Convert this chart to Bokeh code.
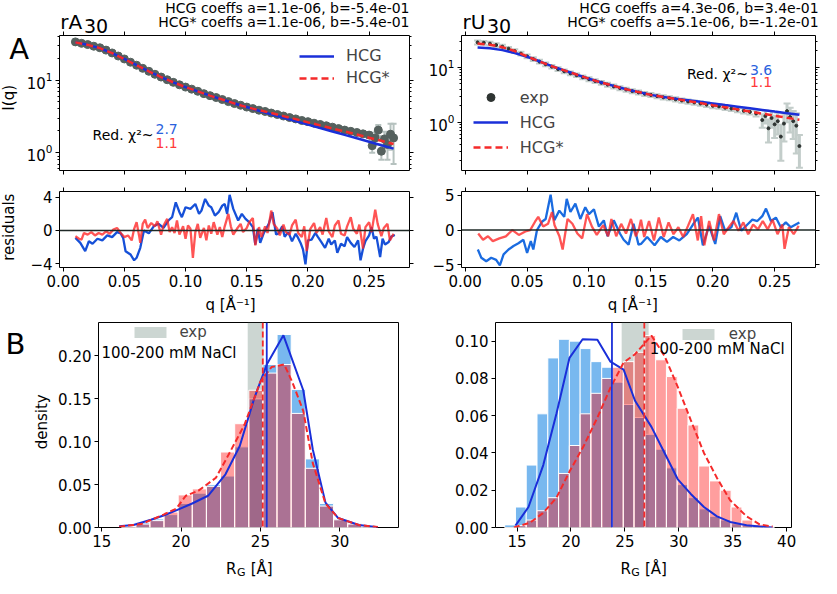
import math
import numpy as np
from bokeh.plotting import figure
from bokeh.layouts import column, row
from bokeh.models import (Range1d, FixedTicker, LinearAxis, LogAxis, Label, Span, GridBox,
                          Legend, LegendItem, CustomJSTickFormatter, NumeralTickFormatter)
from bokeh.embed import file_html
from bokeh.resources import INLINE

FONT = "DejaVu Sans"

# ---------------------------------------------------------------- data
q_ticks = [0.0, 0.05, 0.10, 0.15, 0.20, 0.25]
rA_res_ticks = [-4, 0, 4]
rU_res_ticks = [-5, 0, 5]
rA_hist_xticks = [15, 20, 25, 30]
rA_hist_yticks = [0.0, 0.05, 0.10, 0.15, 0.20]
rU_hist_xticks = [15, 20, 25, 30, 35, 40]
rU_hist_yticks = [0.0, 0.02, 0.04, 0.06, 0.08, 0.10]

rA_coeffs = ["HCG coeffs a=1.1e-06, b=-5.4e-01", "HCG* coeffs a=1.1e-06, b=-5.4e-01"]
rU_coeffs = ["HCG coeffs a=4.3e-06, b=3.4e-01", "HCG* coeffs a=5.1e-06, b=-1.2e-01"]
rA_chi = ["2.7", "1.1"]
rU_chi = ["3.6", "1.1"]

fit_q = [0.01, 0.02, 0.03, 0.04, 0.05, 0.06, 0.07, 0.08, 0.09, 0.10, 0.11, 0.12, 0.13, 0.14,
         0.15, 0.16, 0.17, 0.18, 0.19, 0.20, 0.21, 0.22, 0.23, 0.24, 0.25, 0.26, 0.27]
rA_hcg_I = [33.0, 30.5, 27.5, 23.5, 19.5, 16.0, 13.2, 11.0, 9.3, 8.0, 7.0, 6.1, 5.4, 4.75,
            4.25, 3.78, 3.37, 3.03, 2.72, 2.44, 2.19, 1.96, 1.76, 1.58, 1.42, 1.27, 1.14]
rA_hcgs_I = [33.0, 30.5, 27.5, 23.5, 19.5, 16.0, 13.2, 11.0, 9.3, 8.0, 7.0, 6.1, 5.4, 4.75,
             4.25, 3.85, 3.52, 3.19, 2.90, 2.62, 2.38, 2.16, 1.96, 1.78, 1.61, 1.46, 1.32]
rU_hcg_I = [23.0, 22.2, 20.6, 18.3, 15.6, 12.9, 10.5, 8.8, 7.4, 6.2, 5.3, 4.6, 4.0, 3.55,
            3.16, 2.90, 2.70, 2.53, 2.36, 2.21, 2.06, 1.93, 1.80, 1.68, 1.57, 1.47, 1.37]
rU_hcgs_I = [27.3, 25.8, 23.3, 19.8, 15.8, 12.8, 10.5, 8.8, 7.4, 6.2, 5.3, 4.6, 4.0, 3.55,
             3.16, 2.90, 2.67, 2.44, 2.24, 2.05, 1.88, 1.72, 1.57, 1.44, 1.32, 1.21, 1.11]

rA_exp_q = [0.010, 0.015, 0.020, 0.025, 0.030, 0.035, 0.040, 0.045, 0.050, 0.055, 0.060, 0.065,
            0.070, 0.075, 0.080, 0.085, 0.090, 0.095, 0.100, 0.105, 0.110, 0.115, 0.120, 0.125,
            0.130, 0.135, 0.140, 0.145, 0.150, 0.155, 0.160, 0.165, 0.170, 0.175, 0.180, 0.185,
            0.190, 0.195, 0.200, 0.205, 0.210, 0.215, 0.220, 0.225, 0.230, 0.235, 0.240, 0.245,
            0.250, 0.2525, 0.255, 0.2575, 0.260, 0.2625, 0.265, 0.2675, 0.270]
rA_exp_I = [33.5, 32.0, 30.8, 29.2, 27.8, 25.8, 23.6, 21.4, 19.5, 17.6, 16.0, 14.5, 13.2, 12.0,
            11.0, 10.1, 9.3, 8.6, 8.0, 7.5, 7.0, 6.5, 6.1, 5.75, 5.4, 5.05, 4.75, 4.5, 4.25,
            4.05, 3.85, 3.7, 3.52, 3.36, 3.2, 3.05, 2.92, 2.78, 2.68, 2.55, 2.45, 2.35, 2.25,
            2.15, 2.05, 1.97, 1.9, 1.82, 1.75, 1.25, 1.6, 2.05, 1.05, 1.55, 1.3, 1.8, 1.6]
rA_exp_err = [0.8, 0.8, 0.7, 0.7, 0.6, 0.6, 0.5, 0.5, 0.45, 0.4, 0.35, 0.32, 0.3, 0.28, 0.25,
              0.23, 0.21, 0.2, 0.18, 0.17, 0.16, 0.15, 0.14, 0.13, 0.12, 0.12, 0.11, 0.11, 0.1,
              0.1, 0.1, 0.09, 0.09, 0.09, 0.08, 0.08, 0.08, 0.08, 0.08, 0.08, 0.08, 0.08, 0.08,
              0.08, 0.08, 0.09, 0.1, 0.12, 0.15, 0.25, 0.3, 0.35, 0.25, 0.4, 0.5, 0.7, 0.9]

rU_exp_q = [0.010, 0.015, 0.020, 0.025, 0.030, 0.035, 0.040, 0.045, 0.050, 0.055, 0.060, 0.065,
            0.070, 0.075, 0.080, 0.085, 0.090, 0.095, 0.100, 0.105, 0.110, 0.115, 0.120, 0.125,
            0.130, 0.135, 0.140, 0.145, 0.150, 0.155, 0.160, 0.165, 0.170, 0.175, 0.180, 0.185,
            0.190, 0.195, 0.200, 0.205, 0.210, 0.215, 0.220, 0.225, 0.230, 0.235, 0.240, 0.2425,
            0.245, 0.2475, 0.250, 0.2525, 0.255, 0.2575, 0.260, 0.2625, 0.265, 0.2675, 0.270]
rU_exp_I = [28.5, 28.0, 27.0, 25.5, 23.8, 21.8, 19.8, 17.8, 15.9, 14.2, 12.7, 11.4, 10.3, 9.3,
            8.5, 7.8, 7.2, 6.6, 6.1, 5.65, 5.25, 4.85, 4.5, 4.2, 3.95, 3.7, 3.5, 3.3, 3.15, 3.0,
            2.85, 2.75, 2.62, 2.5, 2.4, 2.3, 2.2, 2.1, 2.0, 1.95, 1.85, 1.78, 1.7, 1.62, 1.55,
            1.45, 1.1, 1.3, 0.78, 1.2, 0.92, 1.05, 0.55, 0.95, 1.6, 1.25, 1.05, 0.87, 0.37]
rU_exp_err = [2.3, 2.2, 2.1, 2.0, 1.9, 1.7, 1.6, 1.4, 1.2, 1.1, 1.0, 0.9, 0.8, 0.7, 0.65, 0.6,
              0.55, 0.5, 0.48, 0.45, 0.42, 0.4, 0.37, 0.35, 0.33, 0.31, 0.3, 0.28, 0.27, 0.26,
              0.25, 0.24, 0.23, 0.22, 0.21, 0.2, 0.2, 0.19, 0.19, 0.18, 0.18, 0.17, 0.17, 0.17,
              0.16, 0.17, 0.3, 0.35, 0.35, 0.4, 0.4, 0.45, 0.35, 0.5, 0.6, 0.6, 0.55, 0.6, 0.22]

rA_res_q_hcg = [0.010, 0.014, 0.018, 0.021, 0.024, 0.028, 0.032, 0.036, 0.040, 0.044, 0.047,
                0.049, 0.051, 0.055, 0.058, 0.060, 0.063, 0.066, 0.070, 0.074, 0.078, 0.082,
                0.086, 0.089, 0.092, 0.095, 0.097, 0.100, 0.104, 0.108, 0.111, 0.113, 0.116,
                0.119, 0.121, 0.124, 0.127, 0.130, 0.132, 0.134, 0.136, 0.139, 0.143, 0.146,
                0.149, 0.152, 0.155, 0.157, 0.159, 0.161, 0.164, 0.168, 0.171, 0.174, 0.176,
                0.179, 0.181, 0.184, 0.187, 0.190, 0.192, 0.194, 0.196, 0.198, 0.200, 0.203,
                0.206, 0.208, 0.211, 0.214, 0.217, 0.219, 0.222, 0.224, 0.227, 0.230, 0.232,
                0.235, 0.238, 0.241, 0.243, 0.245, 0.247, 0.250, 0.252, 0.254, 0.256, 0.259,
                0.261, 0.263, 0.266, 0.268, 0.271]
rA_res_hcg = [-0.9, -1.5, -2.5, -1.3, -1.6, -1.0, -1.2, -0.6, -0.8, -0.2, -0.35, -0.9, -2.5,
              -2.9, -3.6, -3.3, -2.1, 0.0, -0.35, 0.5, 0.8, 0.3, 1.2, 1.6, 3.4, 2.2, 1.6, 2.8,
              2.6, 3.2, 2.0, 2.4, 3.8, 3.0, 2.8, 1.8, 2.2, 3.0, 3.2, 2.0, 4.3, 2.6, 1.2, 2.0,
              1.4, 1.0, 0.4, -1.7, 0.2, -1.5, -0.3, 0.8, 2.2, -0.5, -0.35, 0.5, -0.75, -0.2,
              -1.3, -0.4, -0.9, -1.5, -2.3, -4.1, -1.2, -1.1, -0.3, -0.75, -1.4, -2.1, -1.0,
              -1.7, -1.2, -2.7, -1.6, -1.9, -0.8, -1.5, -2.0, -1.2, -3.6, -2.2, -1.3, -0.6,
              0.4, -1.0, -0.75, -3.2, -1.0, -1.7, -1.4, -0.75, -0.55]
rA_res_q_hcgs = [0.010, 0.013, 0.015, 0.017, 0.020, 0.023, 0.026, 0.029, 0.032, 0.035, 0.038,
                 0.041, 0.044, 0.047, 0.050, 0.053, 0.056, 0.058, 0.060, 0.062, 0.063, 0.065,
                 0.067, 0.069, 0.072, 0.075, 0.077, 0.080, 0.082, 0.085, 0.087, 0.089, 0.091,
                 0.093, 0.095, 0.098, 0.100, 0.102, 0.104, 0.106, 0.108, 0.110, 0.112, 0.115,
                 0.117, 0.119, 0.121, 0.123, 0.126, 0.128, 0.130, 0.132, 0.135, 0.137, 0.139,
                 0.142, 0.145, 0.147, 0.150, 0.152, 0.155, 0.157, 0.160, 0.162, 0.165, 0.167,
                 0.170, 0.172, 0.175, 0.177, 0.180, 0.182, 0.185, 0.187, 0.190, 0.192, 0.195,
                 0.197, 0.199, 0.202, 0.205, 0.207, 0.210, 0.212, 0.215, 0.217, 0.220, 0.222,
                 0.225, 0.227, 0.230, 0.232, 0.235, 0.237, 0.240, 0.242, 0.245, 0.247, 0.250,
                 0.252, 0.255, 0.257, 0.260, 0.262, 0.265, 0.267, 0.270]
rA_res_hcgs = [-0.7, -1.0, -1.1, -0.3, -0.5, -0.2, -0.6, -0.3, -0.5, -0.1, -0.4, 0.1, 0.3, -0.3,
               -0.8, -0.6, -1.2, 0.2, 1.0, -0.6, -1.5, 0.8, 1.3, 0.3, 0.9, 0.5, 1.1, -0.5, 0.6,
               1.4, -0.2, 0.4, -0.3, 1.2, -0.5, 0.5, -1.0, 0.6, 0.2, -3.3, -0.2, 0.8, -0.9, 0.3,
               -1.2, 0.6, -0.4, 1.0, -0.5, 0.4, -0.8, 0.5, 2.0, 0.5, -0.5, 0.2, 0.8, -0.2, 0.3,
               1.0, 1.5, -1.8, 0.4, -0.8, 0.5, -0.3, 2.4, 0.8, 0.2, -0.6, 0.7, -0.2, -0.5, 0.6,
               1.3, -0.3, -0.8, 0.5, -2.5, 0.2, 0.9, -0.3, 0.4, -0.5, 1.5, -0.1, -0.8, 0.6, 1.2,
               -0.4, -0.6, 0.5, 1.6, 0.2, -0.4, 0.7, -2.2, 0.4, 1.0, -0.2, 2.5, 0.8, -0.7, 0.3,
               0.8, -1.2, -0.4]

rU_res_q_hcg = [0.0102, 0.013, 0.017, 0.021, 0.025, 0.028, 0.031, 0.035, 0.039, 0.043, 0.047,
                0.050, 0.053, 0.055, 0.058, 0.062, 0.065, 0.069, 0.072, 0.076, 0.080, 0.082,
                0.085, 0.089, 0.093, 0.097, 0.100, 0.104, 0.108, 0.112, 0.115, 0.120, 0.125,
                0.128, 0.132, 0.136, 0.140, 0.142, 0.147, 0.153, 0.158, 0.163, 0.168, 0.173,
                0.179, 0.184, 0.188, 0.192, 0.197, 0.202, 0.206, 0.210, 0.215, 0.219, 0.223,
                0.228, 0.232, 0.236, 0.240, 0.243, 0.247, 0.251, 0.255, 0.259, 0.263, 0.267,
                0.270]
rU_res_hcg = [-2.8, -4.0, -4.5, -4.0, -4.3, -5.1, -3.5, -2.8, -2.3, -1.9, -1.4, -3.3, -1.6,
              -2.8, 0.0, 1.2, 1.6, 5.1, 1.4, 2.8, 1.9, 4.5, 2.6, 3.8, 1.6, 3.3, 2.3, 3.0, 0.5,
              1.4, -0.9, 1.4, -0.5, -1.4, -2.1, 0.9, -2.1, -2.0, -1.0, -2.2, -1.0, -1.7, -1.0,
              -1.5, -0.6, 0.8, 1.8, -2.2, 0.6, -2.0, 2.0, -0.1, 0.4, 2.5, -0.1, 0.8, 1.5, 1.3,
              2.0, 3.1, 1.3, 1.8, 0.4, 1.1, 0.4, 0.8, 1.1]
rU_res_q_hcgs = [0.0105, 0.0144, 0.0184, 0.0223, 0.0276, 0.0328, 0.0381, 0.0433, 0.0486,
                 0.0525, 0.0564, 0.0590, 0.0630, 0.0669, 0.0701, 0.0722, 0.0761, 0.0787, 0.0827,
                 0.0866, 0.0906, 0.0945, 0.0984, 0.1024, 0.1063, 0.1115, 0.1155, 0.1181, 0.1220,
                 0.1260, 0.1299, 0.1339, 0.1378, 0.1404, 0.1420, 0.1446, 0.1485, 0.1525, 0.1564,
                 0.1604, 0.1643, 0.1683, 0.1722, 0.1761, 0.1800, 0.1840, 0.1879, 0.1906, 0.1932,
                 0.1971, 0.2010, 0.2050, 0.2089, 0.2129, 0.2168, 0.2208, 0.2247, 0.2286, 0.2326,
                 0.2365, 0.2404, 0.2444, 0.2483, 0.2523, 0.2562, 0.2580, 0.2615, 0.2654, 0.2694]
rU_res_hcgs = [-0.5, -1.4, -0.9, -1.6, -1.2, -0.9, 0.0, -0.7, -0.2, 0.0, 1.2, 1.9, 0.5, 0.9,
               2.6, 0.7, -0.9, -2.8, 1.6, 0.9, -0.5, -1.2, 2.3, 0.5, -0.7, 0.7, -0.9, 1.6, -0.9,
               0.9, -0.5, 1.6, -0.9, 0.2, 1.5, -1.0, 1.3, -1.5, 1.8, -1.0, 1.1, -0.6, 0.4, -1.0,
               0.6, 2.3, -1.5, 2.0, -2.2, 1.3, -1.5, 2.3, -0.6, 0.4, 1.3, -0.1, 1.1, -0.6, 0.8,
               0.1, 1.3, 0.1, 1.5, -0.6, 0.8, -2.7, 0.4, -0.6, 0.6]

rA_bin_edges = [16.26, 17.15, 18.04, 18.93, 19.82, 20.71, 21.60, 22.49, 23.38, 24.27, 25.16,
                26.05, 26.94, 27.83, 28.72, 29.61, 30.50, 31.39, 32.28]
rA_hist_hcg = [0.001, 0.006, 0.010, 0.015, 0.028, 0.040, 0.050, 0.060, 0.094, 0.150, 0.190,
               0.225, 0.161, 0.080, 0.028, 0.010, 0.005, 0.002]
rA_hist_hcgs = [0.001, 0.004, 0.008, 0.018, 0.038, 0.045, 0.048, 0.088, 0.121, 0.160, 0.180,
                0.190, 0.133, 0.069, 0.025, 0.009, 0.004, 0.001]
rA_line_hcg_x = [16.1, 17.0, 18.1, 18.9, 19.7, 20.7, 21.7, 22.8, 23.7, 24.6, 25.4, 26.45, 27.7,
                 28.3, 29.1, 29.9, 31.2, 32.4]
rA_line_hcg_y = [0.0015, 0.003, 0.009, 0.014, 0.020, 0.028, 0.037, 0.062, 0.095, 0.150, 0.190,
                 0.224, 0.160, 0.091, 0.029, 0.011, 0.003, 0.0004]
rA_line_hcgs_x = [16.1, 17.5, 18.9, 19.7, 20.3, 21.1, 22.2, 23.0, 24.0, 25.0, 25.7, 26.5, 27.0,
                  27.7, 28.3, 29.1, 29.9, 31.2, 32.4]
rA_line_hcgs_y = [0.001, 0.004, 0.015, 0.022, 0.037, 0.043, 0.058, 0.085, 0.120, 0.170, 0.187,
                  0.190, 0.170, 0.136, 0.075, 0.028, 0.011, 0.003, 0.0005]
rA_mean_hcg = 25.4
rA_mean_hcgs = 25.15
rA_exp_rg = [24.2, 25.2]

rU_bin_edges = [13.85, 14.85, 15.85, 16.85, 17.85, 18.85, 19.85, 20.85, 21.85, 22.85, 23.85,
                24.85, 25.85, 26.85, 27.85, 28.85, 29.85, 30.85, 31.85, 32.85, 33.85, 34.85,
                35.85, 36.85, 37.85, 38.85]
rU_hist_hcg = [0.0014, 0.011, 0.0335, 0.061, 0.091, 0.101, 0.100, 0.096, 0.089, 0.086, 0.078,
               0.066, 0.059, 0.050, 0.042, 0.032, 0.023, 0.016, 0.010, 0.006, 0.004, 0.002,
               0.001, 0.0005, 0.0002]
rU_hist_hcgs = [0.0, 0.001, 0.004, 0.009, 0.016, 0.029, 0.044, 0.061, 0.072, 0.080, 0.086,
                0.089, 0.094, 0.103, 0.090, 0.081, 0.064, 0.055, 0.033, 0.025, 0.020, 0.011,
                0.004, 0.0017, 0.0005]
rU_line_hcg_x = [14.85, 16.06, 17.43, 18.65, 19.86, 21.08, 22.45, 23.66, 24.88, 25.94, 27.46,
                 28.68, 29.89, 31.11, 32.33, 33.54, 34.76, 36.28, 37.49, 38.7]
rU_line_hcg_y = [0.001, 0.011, 0.0335, 0.061, 0.091, 0.101, 0.1008, 0.089, 0.0847, 0.068, 0.054,
                 0.040, 0.026, 0.018, 0.011, 0.006, 0.003, 0.0012, 0.0005, 0.0]
rU_line_hcgs_x = [14.7, 16.2, 17.4, 18.65, 19.86, 21.2, 22.45, 23.66, 24.88, 25.94, 27.46,
                  28.68, 29.89, 31.11, 32.33, 33.54, 34.76, 36.28, 37.49, 38.7]
rU_line_hcgs_y = [0.0, 0.0026, 0.0077, 0.016, 0.030, 0.044, 0.059, 0.075, 0.0885, 0.093, 0.103,
                  0.092, 0.0756, 0.0576, 0.040, 0.0266, 0.0146, 0.006, 0.0017, 0.0005]
rU_mean_hcg = 23.8
rU_mean_hcgs = 26.8
rU_exp_rg = [24.7, 27.2]

# ---------------------------------------------------------------- style
BLUE = "#1a2fd9"
RED = "#f52a2a"
RES_BLUE_A = "#1650d8"
RES_BLUE_U = "#1a6be0"
RES_RED = "#ff2424"
CHI_BLUE = "#2a62dd"
CHI_RED = "#ff3a3a"
BAR_BLUE = "#1e88e5"
BAR_RED = "#ff0000"
BAND = "#8fa39b"

W, H = 821, 578
SX = W / 837
SY = H / 594


def fig(w, h, L, R, T, B, xr, yr, log=False):
    p = figure(width=w, height=h, x_range=xr, y_range=yr,
               y_axis_type=("log" if log else "linear"),
               output_backend="svg", toolbar_location=None,
               min_border_left=L, min_border_right=R, min_border_top=T, min_border_bottom=B)
    p.xgrid.visible = False
    p.ygrid.visible = False
    p.outline_line_color = "black"
    p.outline_line_width = 1
    p.outline_line_alpha = 1
    p.background_fill_color = "white"
    p.border_fill_color = "white"
    return p


def style(ax, ticks, minor=None, show=True, fmt=None, size=15):
    ax.ticker = FixedTicker(ticks=ticks, minor_ticks=(minor if minor else []))
    ax.axis_line_color = None
    ax.major_tick_in = 0
    ax.major_tick_out = 4
    ax.major_tick_line_color = "black"
    ax.major_tick_line_width = 1
    ax.minor_tick_in = 0
    ax.minor_tick_out = 2
    ax.minor_tick_line_color = "black" if minor else None
    ax.major_label_text_font = FONT
    ax.major_label_text_color = "black"
    if show:
        ax.major_label_text_font_size = f"{size}px"
        ax.major_label_standoff = 3
        if fmt is not None:
            ax.formatter = fmt
    else:
        ax.formatter = CustomJSTickFormatter(code="return '';")
        ax.major_label_text_font_size = "0px"
        ax.major_label_standoff = 0


def leg_loc(p, org, cx_left, cy_bottom):
    return (cx_left - org[0] - p.min_border_left,
            (p.height - p.min_border_bottom) - (cy_bottom - org[1]))


minus_fmt = CustomJSTickFormatter(code="return tick < 0 ? '\u2212' + (-tick) : '' + tick;")
minorA = [0.6, 0.7, 0.8, 0.9, 2, 3, 4, 5, 6, 7, 8, 9, 20, 30, 40]
minorU = [0.2, 0.3, 0.4, 0.5, 0.6, 0.7, 0.8, 0.9, 2, 3, 4, 5, 6, 7, 8, 9, 20, 30]

xr_A = Range1d(-0.003, 0.283)
xr_U = Range1d(-0.003, 0.283)


def top_panel(w, L, R, xr, yr, minor, fit_hcg, fit_hcgs, eq, eI, eerr, big_dots):
    p = fig(w, 178, L, R, 35, 8, xr, yr, log=True)
    style(p.xaxis[0], q_ticks, show=False)
    style(p.yaxis[0], [1, 10], minor=minor)
    ax = LinearAxis()
    style(ax, q_ticks, show=False)
    p.add_layout(ax, "above")
    ax = LogAxis()
    style(ax, [1, 10], minor=minor, show=False)
    p.add_layout(ax, "right")
    I = np.array(eI)
    err = np.array(eerr)
    lo = I - err
    hi = I + err
    if big_dots:
        ecol, ew, cap, dcol, dsize = "#b6c2bf", 2, 6, "#55615e", 8
    else:
        ecol, ew, cap, dcol, dsize = "#c3cdca", 3, 7, "#2e3432", 3
    p.segment(x0=eq, y0=lo, x1=eq, y1=hi, line_color=ecol, line_width=ew)
    p.scatter(x=eq, y=lo, marker="dash", size=cap, line_color=ecol, line_width=2)
    p.scatter(x=eq, y=hi, marker="dash", size=cap, line_color=ecol, line_width=2)
    rd = p.scatter(x=eq, y=eI, size=dsize, fill_color=dcol, line_color=dcol)
    r1 = p.line(fit_q, fit_hcg, line_color=BLUE, line_width=2.5)
    r2 = p.line(fit_q, fit_hcgs, line_color=RED, line_width=2.5, line_dash="7 4")
    return p, rd, r1, r2


# ---------------------------------------------------------------- top row
org_TL = (0, 0)
pTL, _, rA1, rA2 = top_panel(420, 59, 11, xr_A, Range1d(0.57, 41), minorA,
                             rA_hcg_I, rA_hcgs_I, rA_exp_q, rA_exp_I, rA_exp_err, True)
legTL = Legend(items=[LegendItem(label="HCG", renderers=[rA1]),
                      LegendItem(label="HCG*", renderers=[rA2])],
               location=leg_loc(pTL, org_TL, 299, 87.5),
               border_line_color=None, background_fill_alpha=0, padding=0, spacing=2,
               margin=0, glyph_width=35, glyph_height=20, label_height=20,
               label_standoff=12, label_text_font=FONT, label_text_font_size="16px")
pTL.add_layout(legTL)

org_TR = (420, 0)
pTR, rUd, rU1, rU2 = top_panel(401, 41, 6, xr_U, Range1d(0.133, 38), minorU,
                               rU_hcg_I, rU_hcgs_I, rU_exp_q, rU_exp_I, rU_exp_err, False)
legTR = Legend(items=[LegendItem(label="exp", renderers=[rUd]),
                      LegendItem(label="HCG", renderers=[rU1]),
                      LegendItem(label="HCG*", renderers=[rU2])],
               location=leg_loc(pTR, org_TR, 472.8, 157.3),
               border_line_color=None, background_fill_alpha=0, padding=0, spacing=5,
               margin=0, glyph_width=35, glyph_height=20, label_height=20,
               label_standoff=12, label_text_font=FONT, label_text_font_size="16px")
pTR.add_layout(legTR)


# ---------------------------------------------------------------- residuals
def res_panel(w, L, R, xr, yr, ticks, qb, rb, qr, rr, bcol):
    p = fig(w, 137, L, R, 13, 48, xr, yr)
    style(p.xaxis[0], q_ticks, fmt=NumeralTickFormatter(format="0.00"))
    style(p.yaxis[0], ticks, fmt=minus_fmt)
    ax = LinearAxis()
    style(ax, q_ticks, show=False)
    p.add_layout(ax, "above")
    ax = LinearAxis()
    style(ax, ticks, show=False)
    p.add_layout(ax, "right")
    p.line(qb, rb, line_color=bcol, line_width=2.3)
    p.line(qr, rr, line_color=RES_RED, line_width=2.3, line_alpha=0.78)
    p.add_layout(Span(location=0, dimension="width", line_color="#1e2826", line_width=1.6))
    return p


pML = res_panel(420, 59, 11, xr_A, Range1d(-4.47, 4.7), rA_res_ticks,
                rA_res_q_hcg, rA_res_hcg, rA_res_q_hcgs, rA_res_hcgs, RES_BLUE_A)
pMR = res_panel(401, 41, 6, xr_U, Range1d(-5.4, 5.56), rU_res_ticks,
                rU_res_q_hcg, rU_res_hcg, rU_res_q_hcgs, rU_res_hcgs, RES_BLUE_U)


# ---------------------------------------------------------------- histograms
def hist_panel(w, L, R, T, B, xr, yr, xt, yt, edges, hb, hr, lbx, lby, lrx, lry,
               mb, mr, band):
    p = fig(w, 263, L, R, T, B, xr, yr)
    style(p.xaxis[0], xt)
    style(p.yaxis[0], yt, fmt=NumeralTickFormatter(format="0.00"))
    rband = p.quad(left=[band[0]], right=[band[1]], bottom=[yr.start], top=[yr.end],
                   fill_color=BAND, fill_alpha=0.45, line_color=None)
    e = np.array(edges)
    p.quad(left=e[:-1], right=e[1:], bottom=0, top=hb, fill_color=BAR_BLUE, fill_alpha=0.6,
           line_color="white", line_width=1)
    p.quad(left=e[:-1], right=e[1:], bottom=0, top=hr, fill_color=BAR_RED, fill_alpha=0.38,
           line_color="white", line_width=1)
    p.add_layout(Span(location=mb, dimension="height", line_color=BLUE, line_width=1.8))
    p.add_layout(Span(location=mr, dimension="height", line_color=RED, line_width=1.8,
                      line_dash="6 3"))
    p.line(lbx, lby, line_color=BLUE, line_width=2)
    p.line(lrx, lry, line_color=RED, line_width=2, line_dash="6 3")
    return p, rband


org_BL = (0, 315)
pBL, bandA = hist_panel(440, 98, 42, 7, 47, Range1d(14.8, 33.7), Range1d(0, 0.239),
                        rA_hist_xticks, rA_hist_yticks, rA_bin_edges, rA_hist_hcg,
                        rA_hist_hcgs, rA_line_hcg_x, rA_line_hcg_y, rA_line_hcgs_x,
                        rA_line_hcgs_y, rA_mean_hcg, rA_mean_hcgs, rA_exp_rg)
legBL = Legend(items=[LegendItem(label="exp", renderers=[bandA])],
               location=leg_loc(pBL, org_BL, 130.4, 344.5),
               border_line_color=None, background_fill_alpha=0, padding=0, spacing=0,
               margin=0, glyph_width=40, glyph_height=14, label_height=14,
               label_standoff=9, label_text_font=FONT, label_text_font_size="15px")
pBL.add_layout(legBL)

org_BR = (440, 315)
pBR, bandU = hist_panel(381, 55, 30, 4, 51, Range1d(13.0, 40.45), Range1d(0, 0.110),
                        rU_hist_xticks, rU_hist_yticks, rU_bin_edges, rU_hist_hcg,
                        rU_hist_hcgs, rU_line_hcg_x, rU_line_hcg_y, rU_line_hcgs_x,
                        rU_line_hcgs_y, rU_mean_hcg, rU_mean_hcgs, rU_exp_rg)
legBR = Legend(items=[LegendItem(label="exp", renderers=[bandU])],
               location=leg_loc(pBR, org_BR, 677.8, 342.6),
               border_line_color=None, background_fill_alpha=0, padding=0, spacing=0,
               margin=0, glyph_width=40, glyph_height=14, label_height=14,
               label_standoff=11, label_text_font=FONT, label_text_font_size="15px")
pBR.add_layout(legBR)

main = column(row(pTL, pTR, spacing=0), row(pML, pMR, spacing=0), row(pBL, pBR, spacing=0),
              spacing=0)

# ---------------------------------------------------------------- text overlay
ov = figure(width=W, height=H, x_range=Range1d(0, W), y_range=Range1d(0, H),
            output_backend="svg", toolbar_location=None,
            x_axis_location=None, y_axis_location=None,
            min_border_left=0, min_border_right=0, min_border_top=0, min_border_bottom=0)
ov.xgrid.visible = False
ov.ygrid.visible = False
ov.outline_line_color = None
ov.background_fill_alpha = 0
ov.border_fill_alpha = 0


def put(rx, ry, text, size, color="black", align="left", baseline="middle", angle=0.0,
        fstyle="normal"):
    ov.add_layout(Label(x=rx * SX, y=H - ry * SY, x_units="screen", y_units="screen",
                        text=text, text_font=FONT, text_font_size=f"{size}px",
                        text_color=color, text_align=align, text_baseline=baseline,
                        angle=angle, text_font_style=fstyle))


# panel A headers
put(61, 22, "rA", 20, baseline="alphabetic")
put(85, 26, "30", 19, baseline="alphabetic")
put(9, 50, "A", 29, baseline="alphabetic")
put(417, 8, rA_coeffs[0], 14, align="right")
put(417, 22, rA_coeffs[1], 14, align="right")
put(471, 22, "rU", 20, baseline="alphabetic")
put(496, 26, "30", 19, baseline="alphabetic")
put(834, 8, rU_coeffs[0], 14, align="right")
put(834, 22, rU_coeffs[1], 14, align="right")
# chi^2 annotations
put(156, 138, "Red. \u03c7\u00b2~", 14, align="right")
put(158, 132, rA_chi[0], 14, color=CHI_BLUE)
put(158, 146, rA_chi[1], 14, color=CHI_RED)
put(762, 76, "Red. \u03c7\u00b2~", 14, align="right")
put(764, 71, rU_chi[0], 14, color=CHI_BLUE)
put(764, 84, rU_chi[1], 14, color=CHI_RED)
# axis titles
put(9, 100, "I(q)", 15, align="center", angle=math.pi / 2)
put(9, 233, "residuals", 15, align="center", angle=math.pi / 2)
put(237, 313, "q  [\u00c5\u207b\u00b9]", 15, align="center")
put(647, 313, "q  [\u00c5\u207b\u00b9]", 15, align="center")
# panel B
put(5, 353, "B", 29, baseline="alphabetic")
put(42, 433, "density", 15, align="center", angle=math.pi / 2)
put(103, 362, "100-200 mM NaCl", 15)
put(662, 358, "100-200 mM NaCl", 15)
for x0 in (230, 632):
    put(x0, 584.5, "R", 15, baseline="alphabetic")
    put(x0 + 11, 587.5, "G", 11, baseline="alphabetic")
    put(x0 + 25, 584.5, "[\u00c5]", 15, baseline="alphabetic")

layout = GridBox(children=[(main, 0, 0), (ov, 0, 0)], spacing=0)

open("out.html", "w").write(file_html(layout, INLINE))
